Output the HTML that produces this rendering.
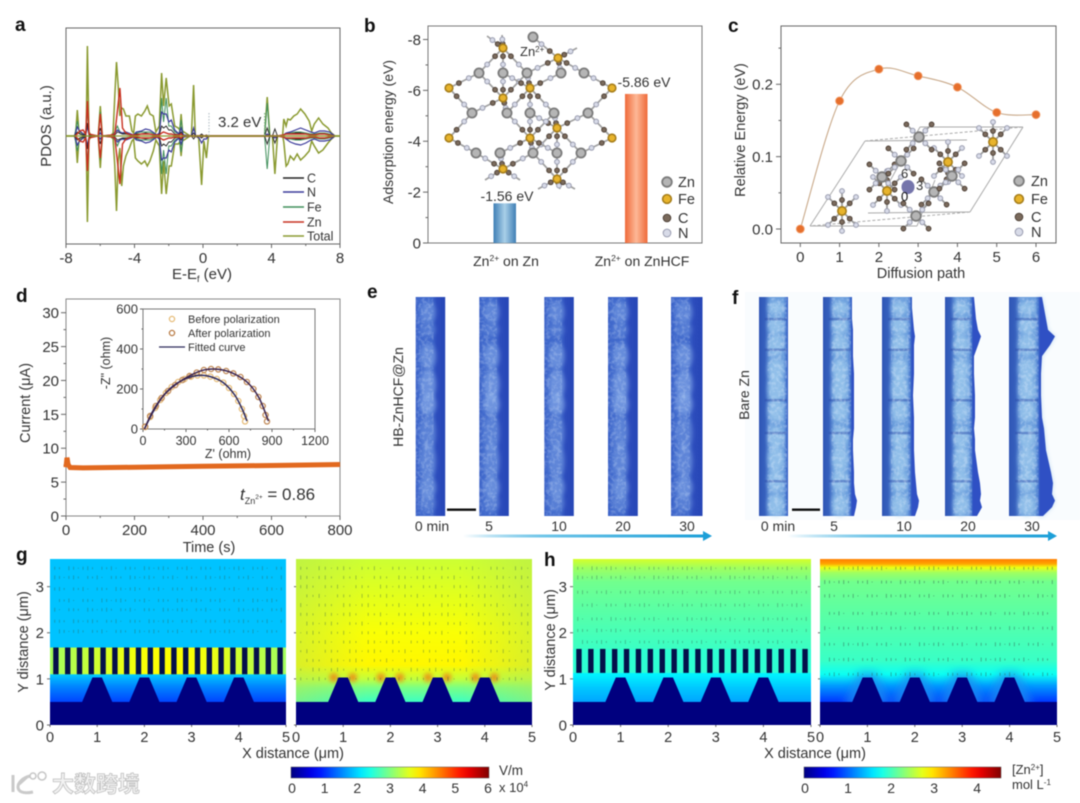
<!DOCTYPE html>
<html><head><meta charset="utf-8"><title>Composite figure</title>
<style>
html,body{margin:0;padding:0;background:#fff;width:1080px;height:803px;overflow:hidden}
svg{display:block;font-family:"Liberation Sans","Noto Sans CJK SC",sans-serif;fill:#333;filter:blur(.5px)}
</style></head><body>
<svg id="figure" xmlns="http://www.w3.org/2000/svg" width="1080" height="803" viewBox="0 0 1080 803">
<defs>
<linearGradient id="barBlue"><stop offset="0" stop-color="#3f7fb5"/><stop offset=".5" stop-color="#a9cfe8"/><stop offset="1" stop-color="#3f7fb5"/></linearGradient>
<linearGradient id="barOrange"><stop offset="0" stop-color="#ef6a3a"/><stop offset=".5" stop-color="#fdb896"/><stop offset="1" stop-color="#ef6a3a"/></linearGradient>
<linearGradient id="stripE"><stop offset="0" stop-color="#3a60c6"/><stop offset=".12" stop-color="#4069cc"/><stop offset=".55" stop-color="#3f68cb"/><stop offset=".72" stop-color="#2c4cbc"/><stop offset="1" stop-color="#2646b6"/></linearGradient>
<linearGradient id="stripF"><stop offset="0" stop-color="#2f55b5"/><stop offset=".2" stop-color="#3660bd"/><stop offset=".38" stop-color="#6a9ddc"/><stop offset=".85" stop-color="#6a9ddc"/><stop offset=".97" stop-color="#3a68c8"/><stop offset="1" stop-color="#2c50c0"/></linearGradient>
<linearGradient id="arrowFade"><stop offset="0" stop-color="#1c9fd8" stop-opacity="0"/><stop offset=".35" stop-color="#6cc4e8"/><stop offset="1" stop-color="#1c9fd8"/></linearGradient>
<linearGradient id="edgeGreen"><stop offset="0" stop-color="#b4e850" stop-opacity=".5"/><stop offset=".3" stop-color="#b4e850" stop-opacity="0"/><stop offset=".7" stop-color="#b4e850" stop-opacity="0"/><stop offset="1" stop-color="#b4e850" stop-opacity=".5"/></linearGradient>
<filter id="blur2" x="-50%" y="-50%" width="200%" height="200%"><feGaussianBlur stdDeviation="2"/></filter>
<filter id="blur4" x="-50%" y="-50%" width="200%" height="200%"><feGaussianBlur stdDeviation="4.5"/></filter>
<filter id="speck" x="0" y="0" width="100%" height="100%"><feTurbulence type="fractalNoise" baseFrequency="0.28" numOctaves="2" seed="4"/><feColorMatrix values="0 0 0 0 .78  0 0 0 0 .88  0 0 0 0 1  0 0 0 3.5 -1.5"/></filter>
</defs>
<rect width="1080" height="803" fill="#fff"/>
<rect x="745" y="292" width="335" height="228" fill="#f9fcfe"/>

<g font-weight="bold" font-size="19" fill="#111">
<text x="15" y="31">a</text>
<text x="364" y="32">b</text>
<text x="728" y="32">c</text>
<text x="16" y="302">d</text>
<text x="367" y="298">e</text>
<text x="732" y="304">f</text>
<text x="16" y="561">g</text>
<text x="544" y="566">h</text>
</g>

<g id="panelA"></g>
<g id="panelB"></g>
<g id="panelC"></g>
<g id="panelD"></g>
<g id="panelE"></g>
<g id="panelF"></g>
<g id="panelG"></g>
<g id="panelH"></g>

<g font-size="14.5">
<text transform="rotate(-90 51 126)" x="51" y="126" text-anchor="middle" font-size="15">PDOS (a.u.)</text>
<text x="202" y="279" text-anchor="middle" font-size="15">E-E<tspan font-size="9" dy="3">f</tspan><tspan dy="-3"> (eV)</tspan></text>
<text x="218" y="127" font-size="15">3.2 eV</text>
<text transform="rotate(-90 393 132)" x="393" y="132" text-anchor="middle" font-size="14">Adsorption energy (eV)</text>
<text x="507" y="201" text-anchor="middle" font-size="14">-1.56 eV</text>
<text x="644" y="87" text-anchor="middle" font-size="14">-5.86 eV</text>
<text x="506" y="266" text-anchor="middle" font-size="14">Zn<tspan font-size="8.5" dy="-5">2+</tspan><tspan dy="5"> on Zn</tspan></text>
<text x="642" y="266" text-anchor="middle" font-size="14">Zn<tspan font-size="8.5" dy="-5">2+</tspan><tspan dy="5"> on ZnHCF</tspan></text>
<text x="520" y="56" font-size="13">Zn<tspan font-size="8" dy="-4">2+</tspan></text>
<text x="921" y="278" text-anchor="middle" font-size="14.5">Diffusion path</text>
<text transform="rotate(-90 745 130)" x="745" y="130" text-anchor="middle" font-size="14.5">Relative Energy (eV)</text>
<text x="901" y="178" font-size="13">6</text>
<text x="916" y="190" font-size="13">3</text>
<text x="901" y="201" font-size="13" fill="#111">0</text>
<text transform="rotate(-90 30 403)" x="30" y="403" text-anchor="middle" font-size="14.5">Current (μA)</text>
<text x="209" y="552" text-anchor="middle" font-size="14.5">Time (s)</text>
<text transform="rotate(-90 110 363)" x="110" y="363" text-anchor="middle" font-size="12.5">-Z" (ohm)</text>
<text x="228" y="458" text-anchor="middle" font-size="12.5">Z' (ohm)</text>
<text x="240" y="500" font-size="17"><tspan font-style="italic">t</tspan><tspan font-size="9" dy="4">Zn</tspan><tspan font-size="6.5" dy="-5">2+</tspan><tspan dy="1"> = 0.86</tspan></text>
<text transform="rotate(-90 403 397)" x="403" y="397" text-anchor="middle" font-size="14">HB-ZnHCF@Zn</text>
<text transform="rotate(-90 749 395)" x="749" y="395" text-anchor="middle" font-size="14">Bare Zn</text>
<text x="293" y="758" text-anchor="middle" font-size="14.5">X distance (μm)</text>
<text x="815" y="758" text-anchor="middle" font-size="14.5">X distance (μm)</text>
<text transform="rotate(-90 28 642)" x="28" y="642" text-anchor="middle" font-size="14.5">Y distance (μm)</text>
<text transform="rotate(-90 555 640)" x="555" y="640" text-anchor="middle" font-size="14.5">Y distance (μm)</text>
<text x="499" y="775" font-size="13.5">V/m</text>
<text x="499" y="792" font-size="13">x 10<tspan font-size="8" dy="-5">4</tspan></text>
<text x="1012" y="774" font-size="13">[Zn<tspan font-size="8" dy="-4">2+</tspan><tspan dy="4">]</tspan></text>
<text x="1012" y="789" font-size="13">mol L<tspan font-size="8" dy="-4">-1</tspan></text>
</g>

<g opacity=".95">
<path d="M13 775v17M30 776c-8 2-12 7-12 11 0 5 6 7 15 5M18 785l9-8" fill="none" stroke="#c8c8c8" stroke-width="3"/>
<circle cx="33" cy="776" r="3" fill="#fff" stroke="#c4c4c4" stroke-width="1.5"/>
<circle cx="42" cy="776" r="4" fill="#fff" stroke="#c4c4c4" stroke-width="1.5"/>
<text x="52" y="792" font-size="22" font-weight="bold" fill="#f2f2f2" stroke="#bdbdbd" stroke-width=".8" font-family="'Liberation Sans','Noto Sans CJK SC',sans-serif">大数跨境</text>
</g>
</svg>
<script>
/* Panel a: density of states (a.u.) */
const totalEnergy=[-8,-7.5,-7.42,-7.34,-7.25,-7.12,-6.95,-6.82,-6.75,-6.66,-6.5,-6.12,-6,-5.88,-5.4,-5.25,-5.15,-5.05,-4.95,-4.85,-4.75,-4.65,-4.5,-4.3,-4.15,-4.05,-3.95,-3.8,-3.6,-3.4,-3.25,-3.1,-2.9,-2.75,-2.55,-2.42,-2.3,-2.15,-1.98,-1.85,-1.65,-1.45,-1.35,-1.28,-1.2,-0.75,-0.68,-0.55,-0.45,-0.25,-0.08,0.05,0.2,0.32,3.6,3.75,3.9,4.05,4.2,4.35,4.65,4.72,4.85,4.95,5.1,5.3,5.5,5.7,5.95,6.2,6.35,6.5,6.75,7,7.3,7.5,7.7,8];
const totalUp=[0,0,5,26,6,3,2,4,90,4,0,0,30,0,0,3,40,74,50,20,28,27,20,20,5,3,20,22,20,25,30,22,20,4,10,63,30,58,30,32,10,8,6,22,5,0,0,51,0,0,0,0,0,0,0,39,0,0,0,0,0,17,10,17,16,20,22,27,22,15,5,12,18,12,8,3,0,0];
const totalDown=[0,0,-5,-27,-6,-3,-2,-4,-86,-4,0,0,-32,0,0,-3,-30,-75,-25,-12,-50,-30,-20,-12,-5,-3,-22,-25,-28,-25,-30,-25,-15,-4,-10,-58,-25,-58,-30,-30,-8,-8,-6,-20,-5,0,0,0,0,-2,-49,-5,-22,0,0,0,0,0,-38,0,0,-6,-30,-28,-20,-24,-18,-24,-20,-15,-5,-10,-17,-14,-7,-3,0,0];
const partialEnergy=[-7.5,-7.34,-7.2,-7,-6.85,-6.75,-6.65,-6.12,-6,-5.88,-5.3,-5.15,-5,-4.85,-4.7,-4.5,-4.2,-4.05,-3.9,-3.6,-3.35,-3.1,-2.85,-2.7,-2.55,-2.42,-2.3,-2.15,-2,-1.85,-1.65,-1.4,-1.28,-1.15,-0.68,-0.55,-0.42,-0.22,-0.08,0.05,0.2,0.32,3.6,3.75,3.9,4.05,4.2,4.35,4.7,4.85,5.1,5.4,5.7,6,6.3,6.5,6.8,7.1,7.4,7.7];
const nUp=[0,9,5,2,1,10,1,0,3,0,1,3,6,4,3,4,2,1,4,5,7,6,3,1,3,24,22,22,14,16,6,2,8,1,0,8,0,0,0,0,0,0,0,2,0,0,0,0,1,3,4,6,8,6,4,3,5,5,4,0];
const nDown=[0,9,5,2,1,10,1,0,3,0,1,3,6,4,3,4,2,1,4,5,7,6,3,1,3,24,22,22,14,16,6,2,8,1,0,0,0,2,7,3,3,0,0,0,0,0,2,0,1,3,6,8,9,7,4,3,5,5,4,0];
const znDos=[0,2,5,6,2,35,2,0,22,0,1,2,25,48,8,3,1,1,1,2,2,2,1,1,1,3,4,3,2,2,1,1,2,0,0,0,0,0,0,0,0,0,0,0,0,0,0,0,1,2,2,2,2,2,1,1,2,2,1,0];
const feDos=[0,15,2,1,1,26,1,0,24,0,0,4,10,4,3,3,1,1,3,4,4,4,2,1,2,38,14,38,10,10,4,2,16,1,0,0,0,0,0,0,0,0,0,33,0,0,0,0,1,3,3,4,4,3,2,2,3,3,2,0];
const cDos=[0,4,2,1,1,13,1,0,8,0,0,1,4,3,2,2,1,0,2,2,3,2,1,0,1,10,8,10,6,6,2,1,4,0,0,3,0,0,2,0,1,0,0,8,0,0,7,0,1,2,2,3,3,2,1,1,2,2,1,0];
const pdosTicks=[-8,-4,0,4,8];
const pdosMinor=[-6,-2,2,6];
const pdosLegendNames=['C','N','Fe','Zn','Total'];
const pdosLegendColors=['#222','#3a3a9a','#3f8f5a','#c83020','#8a9a30'];
/* Panel b */
const adsorptionValues=[1.56,5.86];
const adsorptionTicks=[0,2,4,6,8];
const adsorptionTickLabels=['0','-2','-4','-6','-8'];
/* Panel c */
const pathSteps=[0,1,2,3,4,5,6];
const pathEnergy=[0,0.177,0.221,0.2116,0.196,0.161,0.158];
const energyTicks=[0,0.1,0.2];
const energyTickLabels=['0.0','0.1','0.2'];
/* Panel d */
const currentTime=[0,3,6,12,50,200,400,600,800];
const currentValue=[7.2,8.6,7.6,7.15,7.1,7.2,7.35,7.45,7.6];
const currentTicks=[0,5,10,15,20,25,30];
const timeTicks=[0,200,400,600,800];
const beforeZ=[15,50,85,120,160,200,245,290,335,380,425,470,515,560,600,635,665,690,705,712];
const beforeY=[10,60,105,145,180,210,235,250,262,268,268,262,250,232,205,175,140,100,65,38];
const afterZ=[15,50,90,130,175,225,275,325,375,425,475,525,580,630,680,725,770,805,835,855,865];
const afterY=[12,65,115,155,190,220,245,265,282,295,300,298,290,278,260,235,200,160,115,70,38];
const fitBeforeZ=[10,60,130,210,300,390,470,560,640,695,725];
const fitBeforeY=[0,72,155,215,252,268,262,232,170,95,40];
const fitAfterZ=[10,65,140,230,330,430,530,630,730,810,875];
const fitAfterY=[0,85,165,223,268,296,298,278,232,155,40];
const insetXTicks=[0,300,600,900,1200];
const insetYTicks=[0,200,400,600];
/* Panels g, h: field profiles along y */
const distanceTicksX=[0,1,2,3,4,5];
const distanceTicksY=[0,1,2,3];
const pillarCenters=[1,2,3,4];
const fieldG1Y=[3.6,1.7,1.1,0.85,0.5];
const fieldG1V=[1.9,1.9,1.95,1.55,1.15];
const fieldG2Y=[3.6,3,2,1.3,1,0.8,0.5];
const fieldG2V=[3.45,3.55,3.72,3.8,3.4,2.95,2.6];
const meshG1V=[3.2,3.35,3.55,3.7,3.75,3.7,3.55,3.35,3.2];
const concH1Y=[3.6,3.4,3.1,2.5,1.6,1.1,0.8,0.5];
const concH1V=[2.65,2.4,2.2,2.1,1.95,1.65,1.45,1.3];
const concH2Y=[3.6,3.5,3.42,3.3,3.1,2.4,1.4,1.1,0.85,0.5];
const concH2V=[3.4,3.25,2.75,2.4,2.2,2.1,1.95,1.75,1.25,0.8];
const gBarTicks=[0,1,2,3,4,5,6];
const hBarTicks=[0,1,2,3,4];
const quiverRowsG1=[3.4,3.2,2.95,2.7,2.5,2.25,2.03];
const quiverRowsG2=[3.4,3.2,3,2.8,2.6,2.4,2.2,2,1.8,1.6,1.4,1.2,1];
const quiverRowsH1=[3.4,3.2,2.88,2.6,2.3,2.05,1.8,1.5,1.3];
const quiverRowsH2=[3.4,3.1,2.8,2.42,2.1,1.75,1.42,1.1];
const quiverPattern=[3,2,0,4,3,1,3,4,2,0,3,2,4,1,0,3];
/* Micrograph labels */
const eTimes=['0 min','5','10','20','30'];
const fTimes=['0 min','5','10','20','30'];

const NS='http://www.w3.org/2000/svg';
const $=id=>document.getElementById(id);
function mk(tag,attrs,parent){const e=document.createElementNS(NS,tag);for(const k in attrs)e.setAttribute(k,attrs[k]);parent.appendChild(e);return e;}
const lin=(d0,d1,r0,r1)=>v=>r0+(v-d0)*(r1-r0)/(d1-d0);
function linePath(xs,ys,fx,fy){return xs.map((v,i)=>(i?'L':'M')+fx(v).toFixed(1)+' '+fy(ys[i]||0).toFixed(1)).join('');}
function splinePath(xs,ys,fx,fy){const p=xs.map((v,i)=>[fx(v),fy(ys[i])]);let d='M'+p[0][0]+' '+p[0][1];for(let i=0;i<p.length-1;i++){const a=p[Math.max(i-1,0)],b=p[i],c=p[i+1],e=p[Math.min(i+2,p.length-1)];d+='C'+(b[0]+(c[0]-a[0])/6)+' '+(b[1]+(c[1]-a[1])/6)+' '+(c[0]-(e[0]-b[0])/6)+' '+(c[1]-(e[1]-b[1])/6)+' '+c[0]+' '+c[1];}return d;}
function frame(g,x0,y0,x1,y1,stroke){const f=mk('rect',{x:x0,y:y0,width:x1-x0,height:y1-y0,fill:'none',stroke:stroke||'#777','stroke-width':1},g);

}
function tickLine(g,x1,y1,x2,y2){const t=mk('line',{x1,y1,x2,y2,stroke:'#666','stroke-width':1},g);

}
function label(g,txt,x,y,anchor,size){const t=mk('text',{x,y,'text-anchor':anchor,'font-size':size},g);t.textContent=txt;

return t;}
function xAxis(g,fx,ticks,y,len,labelY,size,labels){ticks.forEach((v,i)=>{tickLine(g,fx(v),y,fx(v),y+len);if(labelY)label(g,labels?labels[i]:String(v),fx(v),labelY,'middle',size);});}
function yAxis(g,fy,ticks,x,len,labelX,size,labels){ticks.forEach((v,i)=>{tickLine(g,x,fy(v),x-len,fy(v));if(labelX)label(g,labels?labels[i]:String(v),labelX,fy(v)+size*0.36,'end',size);});}

/* ---------- Panel a ---------- */
(function(){const g=$('panelA');const X=lin(-8,8,66,340),Y=lin(0,100,136,36);
frame(g,66,28,340,244,'#666');
xAxis(g,X,pdosTicks,244,4,263,15);xAxis(g,X,pdosMinor,244,2);
const series=[[totalEnergy,totalUp,'#8a9a30',1.5,'total-up'],[totalEnergy,totalDown,'#8a9a30',1.5,'total-down'],[partialEnergy,feDos,'#3f8f5a',1,'fe-up'],[partialEnergy,feDos.map(v=>-v),'#3f8f5a',1,'fe-down'],[partialEnergy,nUp,'#3a3a9a',1.2,'n-up'],[partialEnergy,nDown.map(v=>-v),'#3a3a9a',1.2,'n-down'],[partialEnergy,cDos,'#222',.9,'c-up'],[partialEnergy,cDos.map(v=>-v),'#222',.9,'c-down'],[partialEnergy,znDos,'#c83020',1.4,'zn-up'],[partialEnergy,znDos.map(v=>-v),'#c83020',1.4,'zn-down']];
series.forEach(s=>{const p=mk('path',{d:linePath(s[0],s[1],X,Y),fill:'none',stroke:s[2],'stroke-width':s[3]},g);

});
const base=mk('line',{x1:66,x2:340,y1:Y(0),y2:Y(0),stroke:'#8a9a30','stroke-width':1.2},g);


[[0.35,'#b9c4c9'],[3.6,'#7fb58f']].forEach(d=>{const l=mk('line',{x1:X(d[0]),x2:X(d[0]),y1:113,y2:136,stroke:d[1],'stroke-width':1.2,'stroke-dasharray':'1.5 1.5'},g);

});
[178,192,207,222,236].forEach((y,i)=>{const l=mk('line',{x1:283,x2:304,y1:y,y2:y,stroke:pdosLegendColors[i],'stroke-width':1.5},g);


const t=label(g,pdosLegendNames[i],307,y+4.5,'start',12.5);
});
})();

/* ---------- Atoms ---------- */
function atom(g,type,x,y,k){const st={Zn:[4.6,'#b5b5b5','#7c7c7c',1.8],Fe:[3.8,'#e8b42c','#a77f1c',1.6],C:[2.4,'#7a6a5c','#4a3d33',.9],N:[2.4,'#d8dbe8','#9a9db0',1]}[type];
const c=mk('circle',{cx:x,cy:y,r:st[0]*(k||1),fill:st[1],stroke:st[2],'stroke-width':st[3]},g);

}
function bond(g,ax,ay,bx,by,color){const l=mk('line',{x1:ax,y1:ay,x2:bx,y2:by,stroke:color||'#a0a0a0','stroke-width':1.7},g);

}
function linker(g,a,b){bond(g,a[0],a[1],b[0],b[1]);const mx=t=>a[0]+(b[0]-a[0])*t,my=t=>a[1]+(b[1]-a[1])*t;atom(g,'C',mx(.33),my(.33));atom(g,'N',mx(.66),my(.66));}

/* ---------- Panel b ---------- */
(function(){const g=$('panelB');const Y=lin(0,8,243,39.5);
frame(g,428,26,702,243,'#777');
yAxis(g,Y,adsorptionTicks,428,5,421,15,adsorptionTickLabels);
yAxis(g,Y,[1,3,5,7],428,2.5);
[[493.5,'barBlue','bar-zn'],[625,'barOrange','bar-znhcf']].forEach((b,i)=>{const r=mk('rect',{x:b[0],y:Y(adsorptionValues[i]),width:22.5,height:243-Y(adsorptionValues[i]),fill:'url(#'+b[1]+')'},g);

});
const F=[[503,48],[558,58],[449,88],[503,98],[530,88],[612,88],[557,128],[449,138],[530,138],[612,138],[503,169],[557,179]];
const Z=[[479,73],[503,73],[527,73],[561,73],[584,73],[472,113],[507,113],[530,113],[554,113],[588,113],[476,153],[500,153],[533,153],[557,153],[581,153],[533,37]];
const E=[[0,0],[0,1],[0,2],[1,2],[1,3],[1,4],[1,15],[2,0],[2,5],[3,0],[3,1],[3,5],[3,6],[3,2],[4,1],[4,2],[4,3],[4,7],[4,6],[4,8],[5,4],[5,9],[6,8],[6,9],[6,7],[6,14],[6,13],[6,12],[7,5],[7,10],[8,6],[8,7],[8,8],[8,11],[8,12],[8,13],[9,9],[9,14],[10,10],[10,11],[10,12],[11,12],[11,13],[11,14]];
const net=mk('g',{},g);


E.forEach(e=>linker(net,F[e[0]],Z[e[1]]));
[[0,487,36],[0,502,35],[1,577,48],[10,485,180],[10,520,180],[11,538,189],[11,560,189],[11,575,189]].forEach(d=>{const a=F[d[0]];linker(net,a,[d[1],d[2]]);});
Z.forEach(p=>atom(net,'Zn',p[0],p[1]));F.forEach(p=>atom(net,'Fe',p[0],p[1]));
const lg=[['Zn',182,1.05],['Fe',199,1.15],['C',218,1.6],['N',233,1.6]];
lg.forEach(d=>{atom(g,d[0],667,d[1],d[2]);const t=label(g,d[0],678,d[1]+5,'start',14.5);
});
})();

/* ---------- Panel c ---------- */
(function(){const g=$('panelC');const X=lin(0,6,800.3,1036),Y=lin(0,0.2,229,84.3);
frame(g,781,26,1056,243,'#666');
xAxis(g,X,pathSteps,243,4,262,15);
yAxis(g,Y,energyTicks,781,5,773,15,energyTickLabels);
yAxis(g,Y,[0.05,0.15,0.25],781,2.5);
const cr=mk('g',{},g);


[[810,226,865,141],[865,141,1023,127],[1023,127,970,212],[970,212,810,226],[810,226,917,226],[868,213,970,212],[865,141,967,140],[920,127,1023,127],[920,127,885,190],[917,226,935,180]].forEach((s,i)=>{const l=mk('line',{x1:s[0],y1:s[1],x2:s[2],y2:s[3],stroke:'#aaa','stroke-width':1,'stroke-dasharray':(i==1||i==3)?'3 2':'none'},cr);

});
const Fe=[[842,211],[887,191],[948,162],[993,142]];
const Zn=[[882,177],[901,161],[919,137],[934,192],[952,176],[916,216]];
const sp=[[0,-1],[.7,-.7],[1,.1],[.7,.7],[0,1],[-.7,.7],[-1,.1],[-.7,-.7]];
Fe.forEach(f=>{[0,1,3,4,5,7].forEach(i=>{const d=sp[i],L=20;bond(cr,f[0],f[1],f[0]+d[0]*L,f[1]+d[1]*L,'#999');atom(cr,'C',f[0]+d[0]*L*.55,f[1]+d[1]*L*.55);atom(cr,'N',f[0]+d[0]*L,f[1]+d[1]*L);});atom(cr,'Fe',f[0],f[1],1.1);});
Zn.forEach(f=>{[1,3,5,7].forEach(i=>{const d=sp[i],L=18;bond(cr,f[0],f[1],f[0]+d[0]*L,f[1]+d[1]*L,'#999');atom(cr,'N',f[0]+d[0]*L*.5,f[1]+d[1]*L*.5);atom(cr,'C',f[0]+d[0]*L,f[1]+d[1]*L);});atom(cr,'Zn',f[0],f[1],1.05);});
const ion=mk('ellipse',{cx:908,cy:187,rx:6.5,ry:7,fill:'#5d5d9c',opacity:.85},cr);


const c=mk('path',{d:splinePath(pathSteps,pathEnergy,X,Y),fill:'none',stroke:'#c8a888','stroke-width':1.1},g);


pathSteps.forEach((s,i)=>{const m=mk('circle',{cx:X(s),cy:Y(pathEnergy[i]),r:4,fill:'#e66f2c',stroke:'#f2a070','stroke-width':.8},g);

});
[['Zn',181,1.05],['Fe',199,1.15],['C',217,1.6],['N',232,1.6]].forEach(d=>{atom(g,d[0],1019,d[1],d[2]);const t=label(g,d[0],1031,d[1]+5,'start',14.5);
});
})();

/* ---------- Panel d ---------- */
(function(){const g=$('panelD');const X=lin(0,800,66,340),Y=lin(0,30,516,312.7);
frame(g,66,299,340,516,'#888');
xAxis(g,X,timeTicks,516,4,535,15);xAxis(g,X,[100,300,500,700],516,2);
yAxis(g,Y,currentTicks,66,5,59,15);yAxis(g,Y,[2.5,7.5,12.5,17.5,22.5,27.5],66,2.5);
const l=mk('path',{d:linePath(currentTime,currentValue,X,Y),fill:'none',stroke:'#e2691f','stroke-width':5},g);


const ins=mk('g',{},g);


const IX=lin(0,1200,143,315),IY=lin(0,600,429,309);
frame(ins,143,309,315,429,'#777');
xAxis(ins,IX,insetXTicks,429,3,445,12.5);yAxis(ins,IY,insetYTicks,143,3,138,13);
xAxis(ins,IX,[150,450,750,1050],429,1.5);yAxis(ins,IY,[100,300,500],143,1.5);
beforeZ.forEach((z,i)=>{const m=mk('circle',{cx:IX(z),cy:IY(beforeY[i]),r:2.6,fill:'none',stroke:'#e6bc78','stroke-width':1.3},ins);

});
afterZ.forEach((z,i)=>{const m=mk('circle',{cx:IX(z),cy:IY(afterY[i]),r:2.6,fill:'none',stroke:'#c08855','stroke-width':1.3},ins);

});
const f1=mk('path',{d:splinePath(fitBeforeZ,fitBeforeY,IX,IY),fill:'none',stroke:'#2d2a5c','stroke-width':1.5},ins);


const f2=mk('path',{d:splinePath(fitAfterZ,fitAfterY,IX,IY),fill:'none',stroke:'#3a2450','stroke-width':1.5},ins);


[[319,'#e6bc78','Before polarization'],[333,'#b87a44','After polarization']].forEach(d=>{const m=mk('circle',{cx:172,cy:d[0],r:2.6,fill:'none',stroke:d[1],'stroke-width':1.3},ins);


const t=label(ins,d[2],188,d[0]+4,'start',11);
});
const sw=mk('line',{x1:159,x2:185,y1:347,y2:347,stroke:'#2d2a5c','stroke-width':1.2},ins);


const t=label(ins,'Fitted curve',188,351,'start',11);

})();

/* ---------- Panels e, f micrographs ---------- */
const ePatches=[[.07,.05,.4],[.15,.03,.25],[.27,.06,.5],[.40,.07,.55],[.49,.05,.6],[.62,.08,.35],[.75,.08,.4],[.87,.05,.5],[.94,.04,.3]];
const fPatches=[[.05,.03],[.13,.04],[.22,.05],[.33,.05],[.42,.06],[.52,.05],[.64,.05],[.74,.06],[.84,.05],[.95,.05]];
const fBands=[.1,.24,.47,.62,.84];
const edgeFractions=[0,.05,.1,.15,.18,.22,.27,.35,.45,.55,.6,.65,.7,.8,.85,.9,.93,.96,1];
const fEdges=[[0,0,0,0,0,0,0,0,0,0,0,0,0,0,0,0,0,0,0],[0,0,0,1,1,1,1,2,2,2,2,1,1,2,2,3,5,4,2],[0,0,1,2,3,2,2,2,1,2,2,2,2,3,4,5,7,6,3],[1,2,3,5,8,5,1,1,2,2,1,2,2,5,7,8,7,9,4],[2,4,6,8,15,10,2,1,1,2,4,5,6,11,13,12,15,12,3]];
function strip(g,x,w,fill,name){const top=297,h=219;const s=mk('g',{},g);


const b=mk('rect',{x,y:top,width:w,height:h,fill:'url(#'+fill+')'},s);

return s;}
function blob(s,cx,cy,rx,ry,fill,op){const e=mk('ellipse',{cx,cy,rx,ry,fill,opacity:op,filter:'url(#blur2)'},s);

}
function noise(s,x,w,op){const n=mk('rect',{x,y:298,width:w,height:217,filter:'url(#speck)',opacity:op},s);

}
function timeLabels(g,names,xs){names.forEach((n,i)=>label(g,n,xs[i],531,'middle',14));}
function arrow(g,x0,x1){const r=mk('rect',{x:x0,y:534.5,width:x1-x0-8,height:3,fill:'url(#arrowFade)'},g);


const p=mk('polygon',{points:(x1-9)+',531 '+x1+',536 '+(x1-9)+',541',fill:'#1c9fd8'},g);

}
function scaleBar(g,x,w){const r=mk('rect',{x,y:508.5,width:w,height:2.4,fill:'#111'},g);

}
(function(){const g=$('panelE');[[415.7,29.5],[479.3,29.5],[544.3,29.5],[608,29.8],[671,31.5]].forEach((d,i)=>{const s=strip(g,d[0],d[1],'stripE','micrograph-e-'+i);
ePatches.forEach(p=>blob(s,d[0]+d[1]*.42,297+219*p[0],d[1]*.27,219*p[1],'#8fb2ec',p[2]));noise(s,d[0],d[1]*.6,.22);});
timeLabels(g,eTimes,[432,489,559,623,687]);arrow(g,463,712);scaleBar(g,447,29);})();
(function(){const g=$('panelF');const st=[[759,29],[823,29],[882,30],[945,28],[1009,31]];
st.forEach((d,i)=>{const prof=fEdges[i];
const pts=edgeFractions.map((f,j)=>(d[0]+d[1]+prof[j])+','+(297+219*f));
if(i==4){const halo=mk('polygon',{points:(d[0]+d[1]-2)+',297 '+pts.join(' ')+' '+(d[0]+d[1]-2)+',516',fill:'#a8cbea',filter:'url(#blur2)',opacity:.7},g);

}
const ed=mk('polygon',{points:(d[0]+d[1]-3)+',297 '+pts.join(' ')+' '+(d[0]+d[1]-3)+',516',fill:'#2f50c4'},g);


const s=strip(g,d[0],d[1],'stripF','micrograph-f-'+i);
fPatches.forEach(p=>blob(s,d[0]+d[1]*.58,297+219*p[0],d[1]*.27,219*p[1],'#a5d0f0',.65));
fBands.forEach(y=>{const b=mk('rect',{x:d[0]+d[1]*.2,y:297+219*y-1,width:d[1]*.75,height:2.5,fill:'#2a4aa8',opacity:.45},s);

});
noise(s,d[0]+d[1]*.3,d[1]*.65,.3);});
timeLabels(g,fTimes,[778,834,904,968,1032]);arrow(g,787,1057);scaleBar(g,792,28);})();

/* ---------- Panels g, h maps ---------- */
function jet(t){t=Math.max(0,Math.min(1,t));const f=(a)=>Math.round(255*Math.max(0,Math.min(1,1.5-Math.abs(4*t-a))));return 'rgb('+f(3)+','+f(2)+','+f(1)+')';}
let gradN=0;
function vGrad(ys,vs,vmax,Y){const svg=$('figure').querySelector('defs');const id='fieldGrad'+(gradN++);const lg=mk('linearGradient',{id,gradientUnits:'userSpaceOnUse',x1:0,x2:0,y1:Y(ys[0]),y2:Y(ys[ys.length-1])},svg);
const a=Y(ys[0]),b=Y(ys[ys.length-1]);ys.forEach((y,i)=>mk('stop',{offset:((Y(y)-a)/(b-a)).toFixed(3),'stop-color':jet(vs[i]/vmax)},lg));return id;}
function colorbar(g,x0,x1,ticks,vmax,name){const defs=$('figure').querySelector('defs');const id='cbGrad'+name;const lg=mk('linearGradient',{id},defs);
for(let i=0;i<=20;i++)mk('stop',{offset:i/20,'stop-color':jet(i/20)},lg);
const r=mk('rect',{x:x0,y:767,width:x1-x0,height:11,fill:'url(#'+id+')',stroke:'#555','stroke-width':.5},g);


const X=lin(0,vmax,x0+1,x1-1);ticks.forEach(v=>label(g,String(v),X(v),793,'middle',14));}
function map(g,x0,x1,ys,vs,vmax,rows,name,showY,opts){opts=opts||{};const Y=lin(0,3.6,725,559),X=lin(0,5,x0,x1);
const m=mk('g',{},g);


const id=vGrad(ys,vs,vmax,Y);
const r=mk('rect',{x:x0,y:559,width:x1-x0,height:166,fill:'url(#'+id+')'},m);


if(opts.edge){const e=mk('rect',{x:x0,y:559,width:x1-x0,height:145,fill:'url(#edgeGreen)'},m);

}
if(opts.halo){pillarCenters.forEach(c=>{const h=mk('polygon',{points:[[c-.36,.5],[c-.12,1.04],[c+.12,1.04],[c+.36,.5]].map(p=>X(p[0])+','+Y(p[1])).join(' '),fill:opts.halo,stroke:opts.halo,'stroke-width':9,filter:'url(#blur4)',opacity:opts.haloOp},m);

});}
if(opts.hot){pillarCenters.forEach(c=>{[-.2,.2].forEach(o=>{const h=mk('ellipse',{cx:X(c+o),cy:Y(1.03),rx:4.5,ry:4.5,fill:'#f07a10',filter:'url(#blur2)',opacity:.75},m);

});});}
rows.forEach((yv,ri)=>{const step=opts.step||.1;let k=ri*3;for(let xv=.1;xv<4.95;xv+=step){const len=quiverPattern[k++%quiverPattern.length];if(!len)continue;const t=mk('line',{x1:X(xv),x2:X(xv),y1:Y(yv)-len/2,y2:Y(yv)+len/2,stroke:'#2e5a4a','stroke-width':.9,opacity:opts.qOp||.45},m);

}});
if(opts.mesh){const defs=$('figure').querySelector('defs');const mid='meshGrad'+name;const lg=mk('linearGradient',{id:mid},defs);opts.meshV.forEach((v,i)=>mk('stop',{offset:i/(opts.meshV.length-1),'stop-color':jet(v/vmax)},lg));
const y0=Y(opts.mesh[1]),y1=Y(opts.mesh[0]);
const bg=mk('rect',{x:x0,y:y0,width:x1-x0,height:y1-y0,fill:'url(#'+mid+')'},m);

}
if(opts.mesh){const y0=Y(opts.mesh[1]),y1=Y(opts.mesh[0]);for(let i=0;i<20;i++){const xc=X(.125+i*.25);const b=mk('rect',{x:xc-2.7,y:y0,width:5.4,height:y1-y0,fill:'#04104a'},m);

}}
pillarCenters.forEach(c=>{const p=mk('polygon',{points:[[c-.32,.5],[c-.1,1.03],[c+.1,1.03],[c+.32,.5]].map(q=>X(q[0])+','+Y(q[1])).join(' '),fill:'#00007f'},m);

});
const sub=mk('rect',{x:x0,y:Y(.5),width:x1-x0,height:725-Y(.5),fill:'#00007f'},m);


xAxis(g,X,distanceTicksX,725,2,742,14.5);
if(showY){yAxis(g,Y,distanceTicksY,x0,3,x0-6,15);}else{distanceTicksY.forEach(v=>tickLine(g,x0-2,Y(v),x0,Y(v)));}}
(function(){const g=$('panelG');
map(g,50,286,fieldG1Y,fieldG1V,6,quiverRowsG1,'field-map-with-coating',true,{mesh:[1.1,1.68],meshV:meshG1V,qOp:.4});
map(g,296,532,fieldG2Y,fieldG2V,6,quiverRowsG2,'field-map-bare',false,{edge:true,hot:true,step:.13,qOp:.4});
colorbar(g,291,489,gBarTicks,6,'field');})();
(function(){const g=$('panelH');
map(g,573,811,concH1Y,concH1V,4.53,quiverRowsH1,'concentration-map-with-coating',true,{mesh:[1.13,1.65],meshV:[1.9,1.9],qOp:.4});
map(g,820,1057,concH2Y,concH2V,4.53,quiverRowsH2,'concentration-map-bare',false,{halo:'#1a8cf0',haloOp:.75,step:.1,qOp:.5});
colorbar(g,804,1001,hBarTicks,4.53,'concentration');})();
</script>
</body></html>
